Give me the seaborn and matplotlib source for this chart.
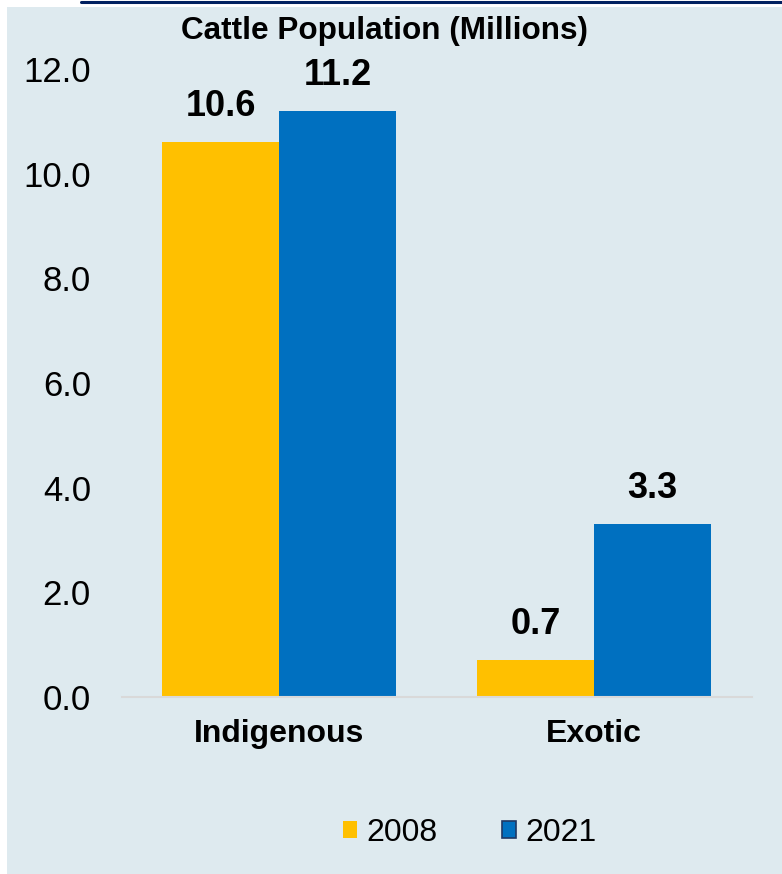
"""Cattle population bar chart, 2008 vs 2021."""
import matplotlib

matplotlib.use("Agg")
import matplotlib.pyplot as plt
import pandas as pd
import seaborn as sns
from matplotlib.lines import Line2D
from matplotlib.patches import Patch, Rectangle

categories = ["Indigenous", "Exotic"]
years = ["2008", "2021"]
values_2008 = [10.6, 0.7]
values_2021 = [11.2, 3.3]
yticks = [0, 2, 4, 6, 8, 10, 12]

colors = {"2008": "#FFC000", "2021": "#0070C0"}
bg = "#DEEAEF"


def main():
    df = pd.DataFrame({
        "category": categories * 2,
        "year": [years[0]] * len(categories) + [years[1]] * len(categories),
        "value": values_2008 + values_2021,
    })

    sns.set_style("white")
    plt.rcParams["font.family"] = ["Liberation Sans", "DejaVu Sans"]
    plt.rcParams["text.color"] = "black"
    plt.rcParams["xtick.color"] = "black"
    plt.rcParams["ytick.color"] = "black"

    fig = plt.figure(figsize=(7.82, 8.74), dpi=100)
    fig.patch.set_facecolor("white")
    fig.patches.append(Rectangle((7 / 782, 0), 1, 1 - 7 / 874,
                                 transform=fig.transFigure,
                                 facecolor=bg, edgecolor="none", zorder=-5))
    fig.lines.append(Line2D([81 / 782, 1], [1 - 1.5 / 874, 1 - 1.5 / 874],
                            transform=fig.transFigure, color="#002060",
                            linewidth=2.2))

    ax = fig.add_axes([0.1554, 0.2025, 0.961 - 0.1554, 0.921 - 0.2025])
    ax.set_facecolor(bg)

    sns.barplot(data=df, x="category", y="value", hue="year",
                palette=colors, width=0.743, saturation=1, ax=ax,
                legend=False, linewidth=0)

    for container in ax.containers:
        ax.bar_label(container, fmt="%.1f", padding=13, fontsize=26,
                     fontweight="bold")

    ax.set_ylim(0, 12)
    ax.set_xlim(-0.5, 1.5)
    ax.set_yticks(yticks, [f"{t:.1f}" for t in yticks], fontsize=25)
    ax.tick_params(axis="y", length=0, pad=22)
    ax.tick_params(axis="x", length=0, pad=16)
    for lab in ax.get_xticklabels():
        lab.set_fontsize(23)
        lab.set_fontweight("bold")
    ax.set_xlabel("")
    ax.set_ylabel("")

    sns.despine(ax=ax, left=True)
    ax.spines["bottom"].set_color("#D9D9D9")
    ax.spines["bottom"].set_linewidth(1.5)

    fig.text(0.492, 1 - 31 / 874, "Cattle Population (Millions)",
             ha="center", va="center", fontsize=22.7, fontweight="bold")

    handles = [
        Patch(facecolor=colors["2008"], edgecolor="none"),
        Patch(facecolor=colors["2021"], edgecolor="#1F3864", linewidth=1.2),
    ]
    fig.legend(handles, years, loc="center",
               bbox_to_anchor=(470 / 782, 1 - 833 / 874), ncol=2,
               frameon=False, fontsize=23, handlelength=0.45,
               handleheight=0.45, handletextpad=0.3, columnspacing=2.0)

    fig.savefig("out.png", dpi=100, facecolor=fig.get_facecolor())
    return 0


if __name__ == "__main__":
    raise SystemExit(main())
